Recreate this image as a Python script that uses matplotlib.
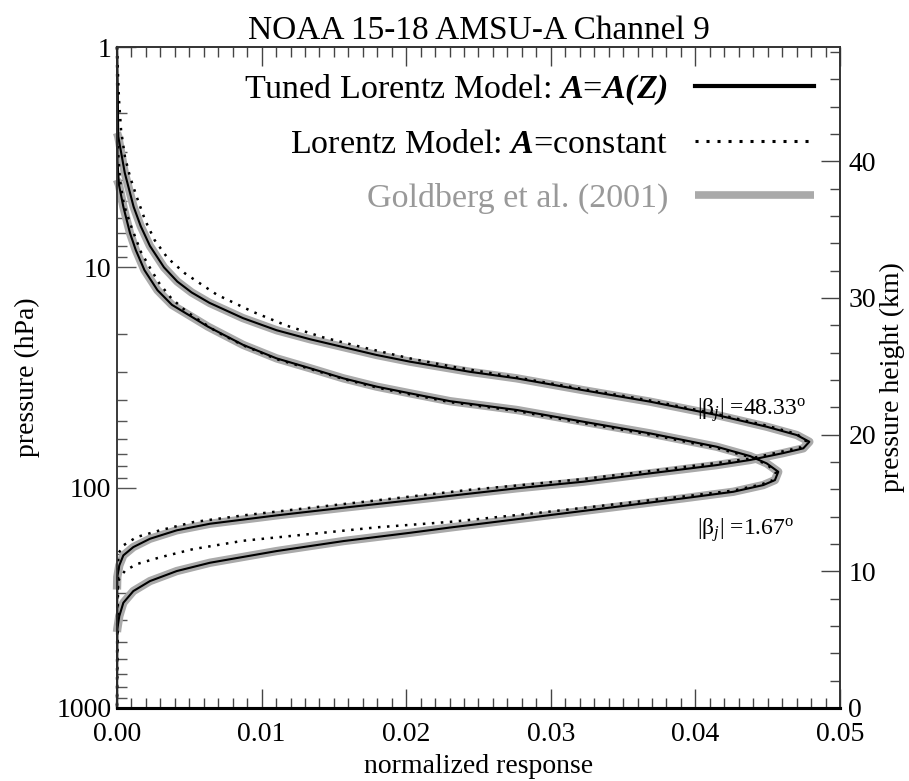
import numpy as np
import matplotlib
matplotlib.use("Agg")
import matplotlib.pyplot as plt
from matplotlib.ticker import MultipleLocator, FuncFormatter, NullFormatter
from matplotlib.lines import Line2D

plt.rcParams['font.family'] = ['Liberation Serif', 'DejaVu Serif']
plt.rcParams['mathtext.fontset'] = 'custom'
plt.rcParams['mathtext.rm'] = 'Liberation Serif'
plt.rcParams['mathtext.it'] = 'Liberation Serif:italic'
plt.rcParams['mathtext.bf'] = 'Liberation Serif:bold'
try:
    plt.rcParams['mathtext.bfit'] = 'Liberation Serif:bold:italic'
except KeyError:
    pass

# weighting functions: normalized response vs pressure (hPa)
# |beta_j| = 48.33 deg
a48_tuned_x = [0.0, 0.00005, 0.00009, 0.00054, 0.00115, 0.00164, 0.00228, 0.00325, 0.00417, 0.00516,
               0.0064, 0.00871, 0.01104,
               0.01335, 0.01563, 0.01796, 0.02026, 0.02254, 0.02441, 0.02764, 0.03223, 0.03686, 0.04147,
               0.04493, 0.04701, 0.04788, 0.04746, 0.04606, 0.04378, 0.04147, 0.03686, 0.03223, 0.02764,
               0.02026, 0.01563, 0.01104, 0.00643, 0.00413, 0.00228, 0.00113, 0.00044, 0.00016, 0.00002, 0.0]
a48_tuned_p = [1.0, 1.58, 2.55, 3.73, 5.31, 6.5, 8.0, 10.0, 11.6, 13.0,
               14.5, 17.0, 19.3,
               21.2, 23.0, 25.0, 26.8, 28.4, 29.8, 31.9, 36.1, 40.7, 46.8,
               52.9, 57.7, 61.9, 66.3, 69.7, 74.9, 79.0, 86.1, 94.0, 100.7,
               114.2, 123.4, 133.6, 145.8, 156.2, 170.6, 186.1, 202.9, 225.3, 254.6, 1000.0]

a48_const_x = [0.0, 0.00003, 0.00014, 0.00028, 0.00055, 0.0009, 0.00136, 0.00194, 0.0026, 0.0035,
               0.0047, 0.0069, 0.00938, 0.01174, 0.01427, 0.01703, 0.02026, 0.02326, 0.02764, 0.03223,
               0.03686, 0.04147, 0.04493, 0.04701, 0.04765, 0.04723, 0.04585, 0.04378, 0.04147, 0.03686,
               0.03223, 0.02764, 0.02441, 0.01796, 0.01335, 0.00873, 0.00528, 0.00297, 0.00136, 0.00044,
               0.00009, 0.0]
a48_const_p = [1.0, 1.15, 1.74, 2.38, 3.15, 3.88, 4.78, 6.10, 7.52, 9.07,
               10.65, 13.3, 15.9, 18.4, 20.8, 23.1, 25.9, 28.3, 31.6, 35.7,
               40.2, 46.3, 52.3, 57.1, 61.4, 65.8, 68.9, 73.8, 77.3, 84.1,
               91.4, 97.8, 102.2, 114.2, 123.4, 133.6, 143.3, 156.2, 167.6, 182.8,
               199.5, 1000.0]

a48_gold_x = [0.0, 0.00009, 0.00054, 0.00115, 0.00164, 0.00228, 0.00325, 0.00417, 0.00516,
              0.0064, 0.00871, 0.01104,
              0.01335, 0.01563, 0.01796, 0.02026, 0.02254, 0.02441, 0.02764, 0.03223, 0.03686, 0.04147,
              0.04493, 0.04701, 0.04788, 0.04746, 0.04606, 0.04378, 0.04147, 0.03686, 0.03223, 0.02764,
              0.02026, 0.01563, 0.01104, 0.00643, 0.00413, 0.00228, 0.00113, 0.00044, 0.00016, 0.00002, 0.0]
a48_gold_p = [2.45, 2.55, 3.73, 5.31, 6.5, 8.0, 10.0, 11.6, 13.0,
              14.5, 17.0, 19.3,
              21.2, 23.0, 25.0, 26.8, 28.4, 29.8, 31.9, 36.1, 40.7, 46.8,
              52.9, 57.7, 61.9, 66.3, 69.7, 74.9, 79.0, 86.1, 94.0, 100.7,
              114.2, 123.4, 133.6, 145.8, 156.2, 170.6, 186.1, 202.9, 225.3, 254.6, 290.0]

# |beta_j| = 1.67 deg
a02_tuned_x = [0.0, 0.00003, 0.00014, 0.00044, 0.0009, 0.0013, 0.0019, 0.0028, 0.0038, 0.0063,
               0.00873, 0.01104, 0.01335, 0.01565, 0.01796, 0.02026, 0.02303, 0.02764, 0.03225, 0.03686,
               0.04147, 0.04378, 0.04493, 0.04573, 0.04550, 0.04470, 0.04262, 0.03916, 0.03456, 0.02994,
               0.02533, 0.02303, 0.02026, 0.01565, 0.01104, 0.00643, 0.00413, 0.00228, 0.00113, 0.00044,
               0.00016, 0.00002, 0.0]
a02_tuned_p = [1.0, 3.26, 4.23, 5.31, 6.99, 8.35, 10.3, 12.7, 14.8, 18.6,
               22.5, 25.9, 28.7, 31.9, 34.8, 37.3, 40.5, 44.4, 50.2, 56.7,
               65.2, 71.9, 77.6, 84.7, 92.4, 97.3, 104.4, 111.8, 122.1, 133.2,
               145.3, 151.7, 160.3, 174.8, 194.0, 219.2, 239.1, 265.5, 294.7, 333.0,
               382.6, 438.5, 1000.0]

a02_const_x = [0.0, 0.00002, 0.00007, 0.00021, 0.00048, 0.00097, 0.00165, 0.0023, 0.00292, 0.00375,
               0.00482, 0.00586, 0.00689, 0.00873, 0.01104, 0.01335, 0.01565, 0.01796, 0.02026, 0.02303,
               0.02764, 0.03225, 0.03686, 0.04147, 0.04378, 0.04493, 0.04557, 0.04537, 0.04454, 0.04262,
               0.03916, 0.03456, 0.02994, 0.02533, 0.02303, 0.01796, 0.01335, 0.00873, 0.00528, 0.00297,
               0.00136, 0.00055, 0.00014, 0.00002, 0.0]
a02_const_p = [1.0, 1.74, 2.93, 4.02, 5.21, 6.49, 8.50, 10.1, 11.8, 13.8,
               15.9, 17.7, 19.6, 22.6, 26.1, 28.9, 32.1, 35.1, 37.7, 40.9,
               44.9, 50.9, 57.4, 66.1, 72.6, 78.4, 85.0, 92.4, 96.8, 103.1,
               109.7, 118.7, 128.4, 138.1, 143.0, 151.4, 162.4, 174.2, 190.0, 207.2,
               222.3, 238.4, 260.0, 297.8, 1000.0]

a02_gold_x = [0.0, 0.00014, 0.00044, 0.0009, 0.0013, 0.0019, 0.0028, 0.0038, 0.0063,
              0.00873, 0.01104, 0.01335, 0.01565, 0.01796, 0.02026, 0.02303, 0.02764, 0.03225, 0.03686,
              0.04147, 0.04378, 0.04493, 0.04573, 0.04550, 0.04470, 0.04262, 0.03916, 0.03456, 0.02994,
              0.02533, 0.02303, 0.02026, 0.01565, 0.01104, 0.00643, 0.00413, 0.00228, 0.00113, 0.00044,
              0.00016, 0.00002, 0.0]
a02_gold_p = [4.0, 4.23, 5.31, 6.99, 8.35, 10.3, 12.7, 14.8, 18.6,
              22.5, 25.9, 28.7, 31.9, 34.8, 37.3, 40.5, 44.4, 50.2, 56.7,
              65.2, 71.9, 77.6, 84.7, 92.4, 97.3, 104.4, 111.8, 122.1, 133.2,
              145.3, 151.7, 160.3, 174.8, 194.0, 219.2, 239.1, 265.5, 294.7, 333.0,
              382.6, 438.5, 452.0]

legend_labels = [r'Tuned Lorentz Model: $\mathbfit{A}$=$\mathbfit{A(Z)}$',
                 r'Lorentz Model: $\mathbfit{A}$=constant',
                 'Goldberg et al. (2001)']
angle_labels = [r'|β$_{j}$| =48.33$^{\mathrm{o}}$', r'|β$_{j}$| =1.67$^{\mathrm{o}}$']
angle_pos = [(0.0401, 46.5), (0.0401, 163.0)]

scale_height = 7.0  # km, for the pressure-height axis

gray = '#aaaaaa'

fig = plt.figure(figsize=(9.09, 7.81), dpi=100)
ax = fig.add_axes([0.1287, 0.0935, 0.7954, 0.8463])

for gx, gp in [(a48_gold_x, a48_gold_p), (a02_gold_x, a02_gold_p)]:
    ax.plot(gx, gp, color=gray, lw=6.0, solid_capstyle='butt', solid_joinstyle='round',
            clip_on=False, zorder=2)
for tx, tp in [(a48_tuned_x, a48_tuned_p), (a02_tuned_x, a02_tuned_p)]:
    ax.plot(tx, tp, color='black', lw=1.5, clip_on=False, zorder=3)
for cx, cp in [(a48_const_x, a48_const_p), (a02_const_x, a02_const_p)]:
    ax.plot(cx, cp, color='black', lw=1.8, ls=(0, (1, 2.6)), dash_capstyle='butt',
            clip_on=False, zorder=4)

for lab, (lx, lp) in zip(angle_labels, angle_pos):
    ax.text(lx, lp, lab, fontsize=17, ha='left', va='baseline')

ax.set_xlim(0, 0.05)
ax.set_yscale('log')
ax.set_ylim(1000, 1)
ax.xaxis.set_major_locator(MultipleLocator(0.01))
ax.xaxis.set_minor_locator(MultipleLocator(0.001))
ax.xaxis.set_major_formatter(FuncFormatter(lambda v, _: '%.2f' % v))
ax.yaxis.set_major_formatter(FuncFormatter(lambda v, _: '%g' % v))
ax.yaxis.set_minor_formatter(NullFormatter())
ax.tick_params(axis='x', which='both', direction='in', top=True, bottom=True,
               labelsize=20, pad=10, color='#444444')
ax.tick_params(axis='y', which='both', direction='in', left=True, right=False,
               labelsize=20, pad=4, color='#555555')
ax.tick_params(which='major', length=14, width=1)
ax.tick_params(which='minor', length=7, width=1)
ax.set_xlabel('normalized response', fontsize=20, labelpad=5)
ax.set_ylabel('pressure (hPa)', fontsize=20, labelpad=12)
ax.set_title('NOAA 15-18 AMSU-A Channel 9', fontsize=24, pad=6)

ax2 = ax.twinx()
ax2.set_ylim(0, scale_height * np.log(1000.0))
ax2.yaxis.set_major_locator(MultipleLocator(10))
ax2.yaxis.set_minor_locator(MultipleLocator(2))
ax2.tick_params(axis='y', which='both', direction='in', labelsize=20, pad=6, color='#444444')
ax2.tick_params(which='major', length=14, width=1)
ax2.tick_params(which='minor', length=7, width=1)
ax2.set_ylabel('pressure height (km)', fontsize=20, labelpad=3)

for a in (ax, ax2):
    for side in ('top', 'right', 'left'):
        a.spines[side].set_linewidth(1.2)
        a.spines[side].set_color('#333333')
    a.spines['bottom'].set_linewidth(2.2)
    a.spines['bottom'].set_color('black')
ax.spines['left'].set_color('#666666')

handles = [Line2D([], [], color='black', lw=3.0),
           Line2D([], [], color='black', lw=2.2, ls=(0, (1, 2.6)), dash_capstyle='butt'),
           Line2D([], [], color=gray, lw=5.5, solid_capstyle='butt')]
ax2.legend(handles, legend_labels, loc='upper right', frameon=False, markerfirst=False,
           fontsize=24.5, handlelength=3.5, handletextpad=0.8, labelspacing=0.66,
           borderaxespad=0.35, labelcolor=['black', 'black', '#999999'])

fig.savefig('out.png', dpi=100)
